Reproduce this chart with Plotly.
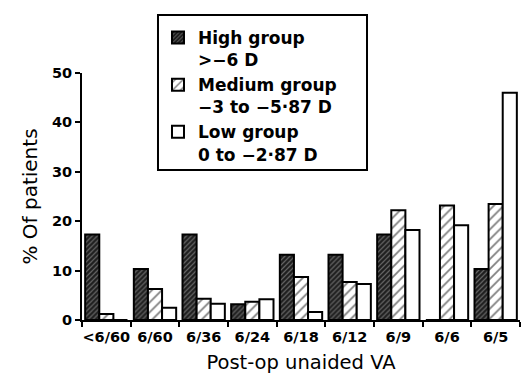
import plotly.graph_objects as go

categories = ["&lt;6/60", "6/60", "6/36", "6/24", "6/18", "6/12", "6/9", "6/6", "6/5"]
high = [17.3, 10.3, 17.3, 3.2, 13.2, 13.2, 17.3, 0, 10.3]
medium = [1.2, 6.3, 4.3, 3.7, 8.7, 7.7, 22.2, 23.2, 23.5]
low = [0, 2.5, 3.3, 4.2, 1.6, 7.3, 18.2, 19.2, 46.0]
names = ["High group<br>&gt;−6 D", "Medium group<br>−3 to −5·87 D", "Low group<br>0 to −2·87 D"]
y_ticks = [0, 10, 20, 30, 40, 50]

FONT = "DejaVu Sans"

fig = go.Figure()
fig.add_trace(go.Bar(
    x=categories, y=high, name=names[0],
    marker=dict(color="#2a2a2a", line=dict(color="black", width=2),
                pattern=dict(shape="/", bgcolor="#1e1e1e", fgcolor="#b0b0b0", size=3.5, solidity=0.35)),
))
fig.add_trace(go.Bar(
    x=categories, y=medium, name=names[1],
    marker=dict(color="white", line=dict(color="black", width=2),
                pattern=dict(shape="/", bgcolor="white", fgcolor="black", size=7, solidity=0.25)),
))
fig.add_trace(go.Bar(
    x=categories, y=low, name=names[2],
    marker=dict(color="white", line=dict(color="black", width=2)),
))

# legend frame (white box behind the legend entries)
fig.add_shape(type="rect", xref="paper", yref="paper",
              x0=0.1735, x1=0.6507, y0=0.607, y1=1.2348,
              line=dict(color="black", width=2), fillcolor="white", layer="above")

fig.update_layout(
    width=526, height=374,
    margin=dict(l=82, r=6, t=73, b=54, autoexpand=False),
    paper_bgcolor="white", plot_bgcolor="white",
    barmode="group", bargap=0.13, bargroupgap=0,
    font=dict(family=FONT, color="black"),
    showlegend=True,
    legend=dict(
        x=0.1735, y=1.215, xanchor="left", yanchor="top",
        borderwidth=0, bgcolor="rgba(0,0,0,0)",
        font=dict(family=FONT, size=17, color="black", weight="bold"),
        valign="top", traceorder="normal", tracegroupgap=0,
    ),
    xaxis=dict(
        type="category", tickson="boundaries", tickangle=0,
        showline=True, linecolor="black", linewidth=2,
        ticks="outside", ticklen=5, tickwidth=1.5, tickcolor="black",
        tickfont=dict(family=FONT, size=14.5, weight="bold", color="black"),
        ticklabelstandoff=3,
        showgrid=False, zeroline=False,
        title=dict(text="Post-op unaided VA", font=dict(family=FONT, size=19.5, color="black"), standoff=17),
    ),
    yaxis=dict(
        range=[0, 50], tickvals=y_ticks,
        showline=True, linecolor="black", linewidth=2,
        ticks="outside", ticklen=5, tickwidth=1.5, tickcolor="black",
        tickfont=dict(family=FONT, size=14.5, weight="bold", color="black"),
        showgrid=False, zeroline=False,
        title=dict(text="% Of patients", font=dict(family=FONT, size=20, color="black"), standoff=9),
    ),
)

fig.write_html("out.html", config={"displayModeBar": False},
               post_script="document.body.style.margin='0';document.body.style.padding='0';")
